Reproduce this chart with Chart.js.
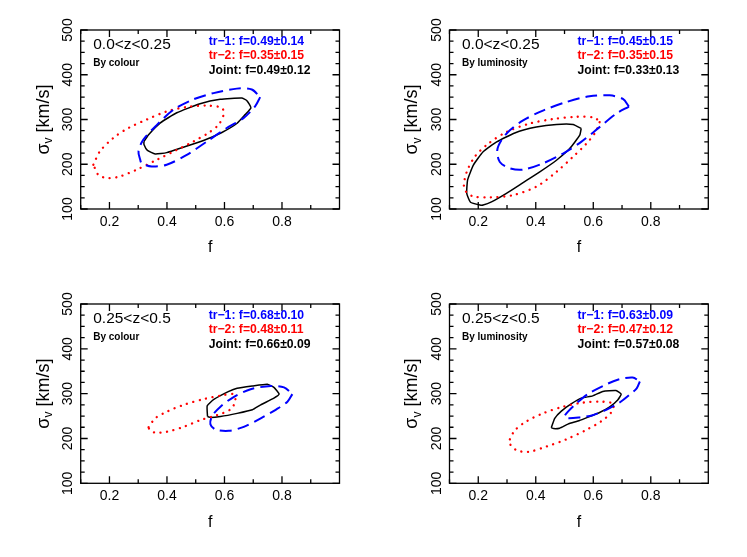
<!DOCTYPE html>
<html>
<head>
<meta charset="utf-8">
<script src="https://cdn.jsdelivr.net/npm/chart.js@4.4.1/dist/chart.umd.min.js"></script>
<style>
  body { margin: 0; background: #fff; }
  #wrap { position: relative; width: 747px; height: 557px; }
  .panel { position: absolute; }
</style>
</head>
<body>
<div id="wrap">
  <div class="panel" style="left:0;top:0"><canvas id="c1" width="373" height="278"></canvas></div>
  <div class="panel" style="left:373px;top:0"><canvas id="c2" width="374" height="278"></canvas></div>
  <div class="panel" style="left:0;top:278px"><canvas id="c3" width="373" height="279"></canvas></div>
  <div class="panel" style="left:373px;top:278px"><canvas id="c4" width="374" height="279"></canvas></div>
</div>
<script>
// axis ticks
const X_TICKS = [0.2, 0.4, 0.6, 0.8];
const X_MINOR = [0.1, 0.3, 0.5, 0.7, 0.9];
const Y_TICKS = [100, 200, 300, 400, 500];
const Y_MINOR = [125, 150, 175, 225, 250, 275, 325, 350, 375, 425, 450, 475];

// contours [f, sigma_v] -- by colour, 0.0<z<0.25
const C1_TR1 = [[0.724,350],[0.707,330],[0.666,303],[0.608,281],[0.539,251],[0.469,221],[0.399,199],[0.347,195],[0.312,202],[0.307,210],[0.301,229],[0.318,255],[0.365,288],[0.423,322],[0.492,345],[0.562,359],[0.643,369],[0.695,367],[0.724,350]];
const C1_TR2 = [[0.144,199],[0.167,229],[0.214,259],[0.266,281],[0.330,300],[0.399,318],[0.469,328],[0.539,331],[0.591,326],[0.597,311],[0.579,288],[0.544,270],[0.492,251],[0.434,232],[0.365,210],[0.295,188],[0.237,173],[0.196,169],[0.162,176],[0.144,199]];
const C1_JOINT = [[0.320,251],[0.336,266],[0.376,292],[0.434,315],[0.515,335],[0.585,345],[0.660,348],[0.678,342],[0.692,326],[0.672,311],[0.643,291],[0.591,271],[0.527,253],[0.457,238],[0.399,226],[0.359,223],[0.332,231],[0.320,244],[0.320,251]];

// by luminosity, 0.0<z<0.25
const L1_TR1 = [[0.724,329],[0.703,346],[0.657,354],[0.587,352],[0.506,339],[0.425,320],[0.356,298],[0.310,276],[0.281,254],[0.266,231],[0.275,205],[0.310,191],[0.356,188],[0.425,202],[0.495,224],[0.558,250],[0.622,283],[0.680,313],[0.724,329]];
const L1_TR2 = [[0.622,294],[0.608,272],[0.576,246],[0.530,217],[0.472,183],[0.402,150],[0.321,131],[0.241,126],[0.183,128],[0.157,139],[0.150,153],[0.160,183],[0.188,217],[0.235,246],[0.298,272],[0.379,291],[0.460,301],[0.541,306],[0.605,304],[0.622,294]];
const L1_JOINT = [[0.558,280],[0.553,265],[0.518,235],[0.472,209],[0.414,183],[0.356,159],[0.298,135],[0.246,116],[0.217,109],[0.206,109],[0.173,115],[0.160,135],[0.163,165],[0.183,198],[0.217,228],[0.264,250],[0.327,270],[0.402,283],[0.472,289],[0.530,289],[0.558,280]];

// by colour, 0.25<z<0.5
const C2_TR1 = [[0.836,299],[0.819,282],[0.778,264],[0.726,245],[0.667,226],[0.615,217],[0.569,220],[0.551,232],[0.557,250],[0.586,271],[0.633,293],[0.691,310],[0.761,317],[0.807,314],[0.836,299]];
const C2_TR2 = [[0.336,225],[0.359,245],[0.400,260],[0.458,275],[0.528,288],[0.598,297],[0.630,299],[0.638,284],[0.621,265],[0.574,252],[0.516,241],[0.458,226],[0.400,215],[0.359,213],[0.340,219],[0.336,225]];
const C2_JOINT = [[0.541,249],[0.540,273],[0.563,287],[0.615,305],[0.644,312],[0.697,317],[0.749,321],[0.772,314],[0.790,299],[0.772,290],[0.726,275],[0.697,264],[0.644,256],[0.586,249],[0.551,247],[0.541,249]];

// by luminosity, 0.25<z<0.5
const L2_TR1 = [[0.762,327],[0.751,312],[0.725,297],[0.691,280],[0.645,264],[0.598,252],[0.552,247],[0.512,245],[0.500,249],[0.512,260],[0.541,278],[0.581,299],[0.633,317],[0.685,331],[0.737,336],[0.762,327]];
const L2_TR2 = [[0.310,198],[0.327,218],[0.367,238],[0.425,256],[0.495,271],[0.564,280],[0.633,282],[0.670,277],[0.662,258],[0.627,238],[0.575,219],[0.506,198],[0.437,182],[0.373,170],[0.333,174],[0.312,186],[0.310,198]];
const L2_JOINT = [[0.454,224],[0.466,245],[0.489,261],[0.523,277],[0.558,290],[0.598,295],[0.633,305],[0.679,307],[0.697,299],[0.685,286],[0.656,270],[0.622,258],[0.587,249],[0.552,240],[0.512,232],[0.483,223],[0.462,222],[0.454,224]];

// fitted fractions: tr-1, tr-2, joint
const C1_F = [0.49, 0.35, 0.49], C1_ERR = [0.14, 0.15, 0.12];
const L1_F = [0.45, 0.35, 0.33], L1_ERR = [0.15, 0.15, 0.13];
const C2_F = [0.68, 0.48, 0.66], C2_ERR = [0.10, 0.11, 0.09];
const L2_F = [0.63, 0.47, 0.57], L2_ERR = [0.09, 0.12, 0.08];

const SERIES = ['tr\u22121:', 'tr\u22122:', 'Joint:'];
const COLORS = ['#0000ff', '#ff0000', '#000000'];
const FONT = '"Liberation Sans", Arial, Helvetica, sans-serif';

const near = (a, b) => Math.abs(a - b) < 1e-6;

// frame with inward ticks on all four sides
const framePlugin = {
    id: 'frame',
    afterDatasetsDraw(chart) {
        const {ctx, chartArea: a, scales: {x, y}} = chart;
        ctx.save();
        ctx.strokeStyle = '#000';
        ctx.lineWidth = 1.3;
        ctx.strokeRect(a.left, a.top, a.right - a.left, a.bottom - a.top);
        ctx.beginPath();
        X_TICKS.concat(X_MINOR).forEach(v => {
            const px = x.getPixelForValue(v);
            const len = X_TICKS.some(t => near(t, v)) ? 7 : 4;
            ctx.moveTo(px, a.bottom); ctx.lineTo(px, a.bottom - len);
            ctx.moveTo(px, a.top); ctx.lineTo(px, a.top + len);
        });
        Y_TICKS.concat(Y_MINOR).forEach(v => {
            const py = y.getPixelForValue(v);
            const len = Y_TICKS.includes(v) ? 7 : 4;
            ctx.moveTo(a.left, py); ctx.lineTo(a.left + len, py);
            ctx.moveTo(a.right, py); ctx.lineTo(a.right - len, py);
        });
        ctx.stroke();
        ctx.restore();
    }
};

// panel texts and axis titles
const textPlugin = {
    id: 'panelText',
    afterDraw(chart, args, o) {
        const {ctx, chartArea: a} = chart;
        ctx.save();
        ctx.textAlign = 'left';
        ctx.textBaseline = 'alphabetic';
        ctx.fillStyle = '#000';
        ctx.font = '15.5px ' + FONT;
        ctx.fillText(o.zrange, a.left + 12.5, a.top + 19);
        ctx.font = 'bold 10px ' + FONT;
        ctx.fillText(o.method, a.left + 12.5, a.top + 36);
        ctx.font = 'bold 12.2px ' + FONT;
        o.f.forEach((f, i) => {
            ctx.fillStyle = COLORS[i];
            ctx.fillText(SERIES[i] + ' f=' + f.toFixed(2) + '\u00b1' + o.err[i].toFixed(2), a.left + 128, a.top + 15 + i * 14.3);
        });

        // x title
        ctx.fillStyle = '#000';
        ctx.textAlign = 'center';
        ctx.textBaseline = 'middle';
        ctx.font = '16px ' + FONT;
        ctx.fillText('f', (a.left + a.right) / 2, a.bottom + 39);

        // y title, sigma with subscript v
        const main = '18px ' + FONT, sub = '12px ' + FONT;
        ctx.font = main;
        const wS = ctx.measureText('\u03c3').width;
        const wT = ctx.measureText(' [km/s]').width;
        ctx.font = sub;
        const wV = ctx.measureText('v').width;
        const total = wS + wV + wT;
        ctx.translate(a.left - 37, (a.top + a.bottom) / 2);
        ctx.rotate(-Math.PI / 2);
        ctx.textAlign = 'left';
        let cx = -total / 2;
        ctx.font = main;
        ctx.fillText('\u03c3', cx, 0);
        cx += wS;
        ctx.font = sub;
        ctx.fillText('v', cx, 5);
        cx += wV;
        ctx.font = main;
        ctx.fillText(' [km/s]', cx, 0);
        ctx.restore();
    }
};

function contour(points, color, kind) {
    const ds = {
        data: points.map(p => ({x: p[0], y: p[1]})),
        showLine: true,
        borderColor: color,
        pointRadius: 0,
        fill: false,
        tension: 0.3
    };
    if (kind === 'dash') {
        ds.borderWidth = 2;
        ds.borderDash = [12, 6];
    } else if (kind === 'dot') {
        ds.borderWidth = 2.3;
        ds.borderDash = [0.1, 6.5];
        ds.borderCapStyle = 'round';
    } else {
        ds.borderWidth = 1.5;
        ds.tension = 0.15;
    }
    return ds;
}

function makePanel(id, tr1, tr2, joint, f, err, zrange, method, pad) {
    const ctx = document.getElementById(id).getContext('2d');
    return new Chart(ctx, {
        type: 'scatter',
        data: {
            datasets: [
                contour(tr1, COLORS[0], 'dash'),
                contour(tr2, COLORS[1], 'dot'),
                contour(joint, COLORS[2], 'solid')
            ]
        },
        options: {
            responsive: false,
            animation: false,
            layout: {padding: pad},
            scales: {
                x: {
                    type: 'linear',
                    min: 0.1,
                    max: 1.0,
                    afterBuildTicks: s => { s.ticks = X_TICKS.map(v => ({value: v})); },
                    afterFit: s => { s.height = 30; },
                    grid: {display: false, drawTicks: false},
                    border: {display: false},
                    ticks: {
                        autoSkip: false,
                        maxRotation: 0,
                        padding: 4.5,
                        color: '#000',
                        font: {family: FONT, size: 14},
                        callback: v => v.toFixed(1)
                    }
                },
                y: {
                    type: 'linear',
                    min: 100,
                    max: 500,
                    afterBuildTicks: s => { s.ticks = Y_TICKS.map(v => ({value: v})); },
                    afterFit: s => { s.width = 40; },
                    grid: {display: false, drawTicks: false},
                    border: {display: false},
                    ticks: {
                        autoSkip: false,
                        minRotation: 90,
                        maxRotation: 90,
                        crossAlign: 'center',
                        padding: 0.5,
                        color: '#000',
                        font: {family: FONT, size: 14}
                    }
                }
            },
            plugins: {
                legend: {display: false},
                tooltip: {enabled: false},
                panelText: {zrange: zrange, method: method, f: f, err: err}
            }
        },
        plugins: [framePlugin, textPlugin]
    });
}

makePanel('c1', C1_TR1, C1_TR2, C1_JOINT, C1_F, C1_ERR, '0.0<z<0.25', 'By colour',
    {left: 40.7, top: 30, right: 33.5, bottom: 39});
makePanel('c2', L1_TR1, L1_TR2, L1_JOINT, L1_F, L1_ERR, '0.0<z<0.25', 'By luminosity',
    {left: 36.5, top: 30, right: 38.7, bottom: 39});
makePanel('c3', C2_TR1, C2_TR2, C2_JOINT, C2_F, C2_ERR, '0.25<z<0.5', 'By colour',
    {left: 40.7, top: 26, right: 33.5, bottom: 43.7});
makePanel('c4', L2_TR1, L2_TR2, L2_JOINT, L2_F, L2_ERR, '0.25<z<0.5', 'By luminosity',
    {left: 36.5, top: 26, right: 38.7, bottom: 43.7});
</script>
</body>
</html>
